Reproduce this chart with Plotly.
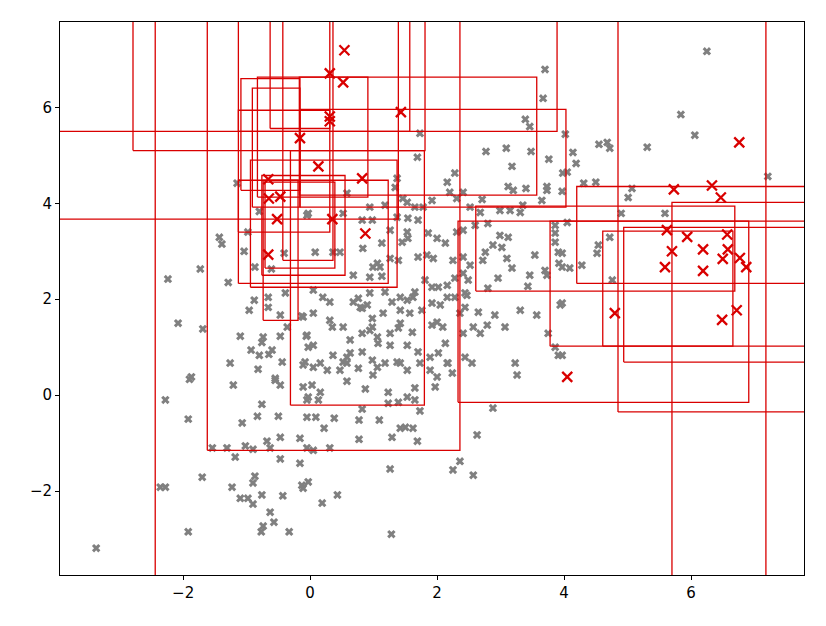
import plotly.graph_objects as go

# --- data ---
gray_x = [
    -1.43, -1.39, -1.04, -1.73, -2.24, -1.29, -0.98, -0.88, -0.96, -0.66, -0.87, -0.61, -0.41,
    -2.08, -1.69, -1.10, -0.74, -0.76, -0.47, -0.36, -0.47, -0.13, -0.93, -0.80, -0.60, -0.65,
    -0.44, -0.06, -0.03, -1.26, -0.82, -0.11, -1.87, -0.55, -0.05, -0.39, -0.66,
    -1.90, -2.28, -1.92, -1.21, -0.55, -0.47, -0.11, -0.05, -0.76, -0.83, -0.50, -1.07, -0.05,
    -0.47, -0.68, -0.16, -1.54, -1.31, -1.18, -1.02, -0.90, -0.63, -0.47, -0.16, -0.05, -1.70,
    -2.36, -2.28, -1.23, -0.87, -0.90, -1.10, -0.98, -0.90, -0.76, -0.43, -0.13, -0.11, -0.63,
    -0.57, -0.74, -0.77, -1.92, -0.33, -3.37,
    0.05, 0.27, 0.47, 0.58, 0.76, 1.06, 0.99, 1.42, 1.53, 0.58, 0.87, 1.23, 0.03, 0.16, -0.03,
    0.13, 0.82, 1.23, 1.39, 1.53, 1.65, 1.65, 1.73, 0.09, 0.38, 0.77, 1.09, 0.22, 1.42, 1.50,
    1.62, 1.29, 0.77, 1.69, 0.05, 0.31, 1.26, 2.25, 2.36, 2.57, 2.63, -0.03, 0.43, 0.19, 1.28,
    1.89, 2.00, 2.24, 1.97, 2.16, 2.55,
    2.28, 2.16, 1.37, 1.34, 2.20, 2.31, 1.46, 1.92, 1.53, 1.18, 1.65, 0.58, -0.03, 0.52, 0.82,
    0.98, 1.54, 1.70, 1.86, 2.00, 2.13, 2.31, 2.41, 1.26, 1.53, 1.45, 1.54, 1.13, 0.83, 0.08,
    0.36, 0.47, 1.70, 1.84, 1.94, 2.25, 2.41, 1.39, 1.26, 1.06, 0.99, 1.10, 0.68, 0.94, 1.13,
    1.81, 2.28, 2.41, 2.02, 2.16, 1.92, 1.65, 1.62, 1.53, 1.42, 1.29, 1.18, 0.94, 0.76, 0.90,
    0.79, 0.68, 0.31, 0.20, 0.05, 0.05, -0.11, 0.31, 0.35, 0.52, 0.82, 0.98, 0.98, 1.15, 1.42,
    1.57, 1.76, 1.92, 2.05, 2.16, 2.28, 2.47, 2.36, 2.00, 2.09, 1.92, 1.61, 1.42, 1.39, 1.26,
    1.06, 0.94, 0.82, 0.63, 0.63, 0.58, 0.52, 0.36, -0.05, 0.05, -0.08, 0.16, 0.82, 1.07, 1.26,
    1.53, 1.70, 1.89, 2.02, 2.13, 2.17, 1.73, 1.37, 1.18, 0.98, 2.41, 2.44,
    3.70, 3.67, 3.39, 3.46, 4.02, 2.77, 3.09, 3.48, 3.76, 3.18, 4.14, 4.19, 4.05, 4.55, 4.68,
    4.72, 5.31, 4.31, 4.50, 3.12, 3.20, 3.40, 3.73, 3.73, 3.97, 2.41, 2.71, 2.52, 3.65, 3.35,
    3.15, 3.31, 2.99, 2.68, 5.07, 5.01, 4.90, 2.80, 2.60, 4.05, 3.86, 3.86, 2.99, 3.12, 2.88,
    3.02, 2.76, 2.72, 3.10, 3.54, 3.91, 3.86, 3.92, 4.09, 4.28, 3.70, 3.46, 3.18, 2.96, 2.52,
    2.49, 2.80, 3.43, 3.73, 4.54, 4.52, 4.72, 4.76, 3.94, 2.65, 2.91, 3.31, 3.57, 2.44, 2.44,
    2.57, 2.79, 3.07, 2.68, 3.75, 3.86, 3.91, 3.23, 3.26, 2.88, 5.84, 6.06, 7.21, 6.25, 5.59,
    3.98, 3.97, 3.97, 3.97, 3.97,
    -1.15, -0.80, 1.73, 1.69, 0.94, 1.37, 1.78,
]
gray_y = [
    3.29, 3.15, 3.00, 2.63, 2.42, 2.35, 3.40, 1.98, 1.77, 1.83, 2.67, 2.63, 2.96,
    1.50, 1.38, 1.23, 1.21, 1.10, 1.23, 1.42, 1.67, 1.65, 0.94, 0.83, 0.94, 0.85,
    0.69, 1.23, 1.00, 0.67, 0.54, 0.63, 0.38, 0.35, 3.75, 2.13, 2.04,
    0.33, -0.10, -0.50, 0.21, 0.31, 0.21, 0.17, -0.10, -0.19, -0.44, -0.44, -0.58, -0.46,
    -0.88, -0.96, -0.90, -1.10, -1.10, -1.29, -1.06, -1.13, -1.10, -1.33, -1.42, -1.10, -1.71,
    -1.92, -1.92, -1.92, -1.69, -1.83, -2.15, -2.15, -2.27, -2.08, -2.10, -1.88, -1.94, -2.44,
    -2.65, -2.73, -2.85, -2.85, -2.85, -3.19,
    0.58, 0.52, 0.52, 0.67, 0.56, 0.58, 0.42, 0.67, 0.52, 0.29, 0.13, 0.06, 0.21, 0.06, -0.04,
    -0.10, -0.29, -0.17, -0.15, -0.04, 0.15, -0.10, -0.33, -0.46, -0.48, -0.52, -0.52, -0.69, -0.69, -0.67,
    -0.69, -0.88, -0.92, -0.96, -1.15, -1.10, -1.54, -1.56, -1.38, -1.67, -0.83, -1.81, -2.08, -2.25, -2.90,
    0.52, 0.38, 0.46, 0.17, 0.67, 0.67,
    4.63, 4.44, 4.52, 4.33, 4.23, 4.10, 4.10, 4.06, 4.02, 3.96, 3.92, 4.21, 3.79, 3.79, 3.65,
    3.65, 3.69, 3.65, 3.38, 3.27, 3.17, 3.40, 3.44, 3.44, 3.40, 3.19, 3.27, 3.17, 3.06, 2.98,
    2.98, 2.98, 2.88, 2.92, 2.85, 2.81, 2.88, 2.81, 2.85, 2.75, 2.67, 2.67, 2.50, 2.46, 2.48,
    2.40, 2.44, 2.54, 2.25, 2.29, 2.25, 2.15, 2.04, 1.98, 2.04, 1.94, 2.15, 2.13, 2.02, 1.88,
    1.83, 1.94, 1.94, 2.04, 2.19, 1.71, 1.63, 1.56, 1.42, 1.42, 1.81, 1.60, 1.42, 1.71, 1.77,
    1.71, 1.77, 1.92, 1.88, 2.04, 2.04, 2.08, 1.71, 1.52, 1.42, 1.46, 1.31, 1.50, 1.40, 1.29,
    1.21, 1.35, 1.29, 1.15, 0.88, 0.79, 0.69, 0.83, 1.25, 1.04, 0.69, 0.67, 0.90, 1.08, 1.04,
    1.04, 0.90, 0.79, 0.88, 1.08, 0.67, 0.67, 0.69, 0.67, 0.73, 1.29, 0.79,
    6.79, 6.19, 5.75, 5.60, 5.44, 5.08, 5.15, 5.08, 4.92, 4.77, 5.06, 4.83, 4.65, 5.23, 5.27,
    5.15, 5.17, 4.42, 4.44, 4.35, 4.27, 4.31, 4.35, 4.27, 4.25, 4.23, 4.08, 3.92, 4.06, 3.96,
    3.85, 3.81, 3.85, 3.81, 4.31, 4.12, 3.79, 3.58, 3.54, 3.60, 3.54, 3.38, 3.33, 3.29, 3.13,
    3.08, 2.98, 2.81, 2.85, 2.92, 2.98, 3.19, 2.75, 2.65, 2.71, 2.60, 2.50, 2.65, 2.44, 2.71,
    2.40, 2.23, 2.27, 2.50, 3.13, 2.96, 3.29, 2.40, 1.88, 1.73, 1.67, 1.77, 1.67, 2.13, 1.83,
    1.42, 1.46, 1.42, 1.29, 1.29, 1.00, 0.83, 0.67, 0.42, -0.27, 5.85, 5.42, 4.56, 7.17, 3.79,
    4.63, 2.96, 2.67, 1.92, 0.83,
    4.42, 3.83, 5.46, 4.96, 3.92, 3.71, 3.92,
]

red_x = [0.54, 0.31, 0.52, 0.31, 0.31, 1.43, -0.16, 0.13, 0.82, -0.66, -0.65, -0.47, -0.52,
         0.35, 0.87, -0.66, 5.73, 6.33, 6.47, 5.62, 5.94, 6.57, 5.70, 6.19, 6.58, 6.50, 6.77,
         5.59, 6.19, 6.87, 4.80, 6.49, 6.72, 6.76, 4.05]
red_y = [7.19, 6.71, 6.52, 5.81, 5.71, 5.90, 5.36, 4.77, 4.52, 4.50, 4.10, 4.14, 3.67,
         3.67, 3.37, 2.93, 4.29, 4.37, 4.12, 3.44, 3.30, 3.35, 3.00, 3.04, 3.04, 2.84, 2.86,
         2.67, 2.59, 2.67, 1.71, 1.57, 1.77, 5.27, 0.38]

# box edges (x0, x1, y0, y1); +-12 runs past the visible axes
box_x0 = [-2.44, -1.62, -12, -2.79, -12, -1.13, -1.09, -0.91, -0.83, -0.17, -0.16, -0.94, -1.13,
          -0.74, -0.63, -0.43, -0.31, -1.13, -0.76, -0.71,
          4.20, 5.70, 4.61, 2.61, 2.33, 4.94, 4.85, 3.78]
box_x1 = [7.18, 2.36, 3.89, 1.81, 1.39, 1.57, -0.16, -0.16, 0.91, 3.57, 4.03, 1.37, 1.23,
          -0.19, 0.31, 0.36, 1.80, 0.31, 0.55, 0.39,
          12, 12, 6.66, 6.69, 6.91, 12, 12, 12]
box_y0 = [-12, -1.15, 5.50, 5.10, 3.67, 5.50, 4.27, 3.92, 4.13, 4.17, 3.92, 2.25, 2.33,
          1.56, 5.56, 2.81, -0.21, 3.40, 2.50, 2.65,
          2.33, -12, 1.02, 2.17, -0.15, 0.69, -0.35, 1.02]
box_y1 = [12, 12, 12, 12, 12, 12, 6.60, 6.40, 6.63, 6.63, 5.96, 4.90, 4.48,
          4.48, 12, 12, 5.10, 5.94, 4.58, 4.44,
          4.35, 4.02, 3.42, 3.94, 3.63, 3.50, 12, 3.63]

RED = "#d90000"
GRAY = "#808080"

fig = go.Figure()

fig.add_trace(go.Scatter(
    x=gray_x, y=gray_y, mode="markers",
    marker=dict(symbol="x", size=7.5, color=GRAY, line=dict(width=0)),
))

# rectangles as closed line paths
bx, by = [], []
for x0, x1, y0, y1 in zip(box_x0, box_x1, box_y0, box_y1):
    bx += [x0, x1, x1, x0, x0, None]
    by += [y0, y0, y1, y1, y0, None]
fig.add_trace(go.Scatter(x=bx, y=by, mode="lines", line=dict(color=RED, width=1.3)))

fig.add_trace(go.Scatter(
    x=red_x, y=red_y, mode="markers",
    marker=dict(symbol="x-thin", size=10, color=RED, line=dict(width=2.3, color=RED)),
))

axis_style = dict(
    showgrid=False, zeroline=False, showline=True, linecolor="black", linewidth=1,
    mirror=True, ticks="outside", ticklen=4, tickcolor="black",
    tickfont=dict(family="DejaVu Sans", size=15, color="black"),
)

# the page adds an 8px body margin, so trim it from the figure
fig.update_layout(
    width=818, height=618,
    margin=dict(l=52, r=22, t=14, b=51),
    plot_bgcolor="white", paper_bgcolor="white",
    showlegend=False,
)
fig.update_xaxes(range=[-3.94, 7.78], tickvals=[-2, 0, 2, 4, 6],
                 ticktext=["\u22122", "0", "2", "4", "6"], **axis_style)
fig.update_yaxes(range=[-3.75, 7.78], tickvals=[-2, 0, 2, 4, 6],
                 ticktext=["\u22122", "0", "2", "4", "6"], **axis_style)

fig.write_html("out.html")
